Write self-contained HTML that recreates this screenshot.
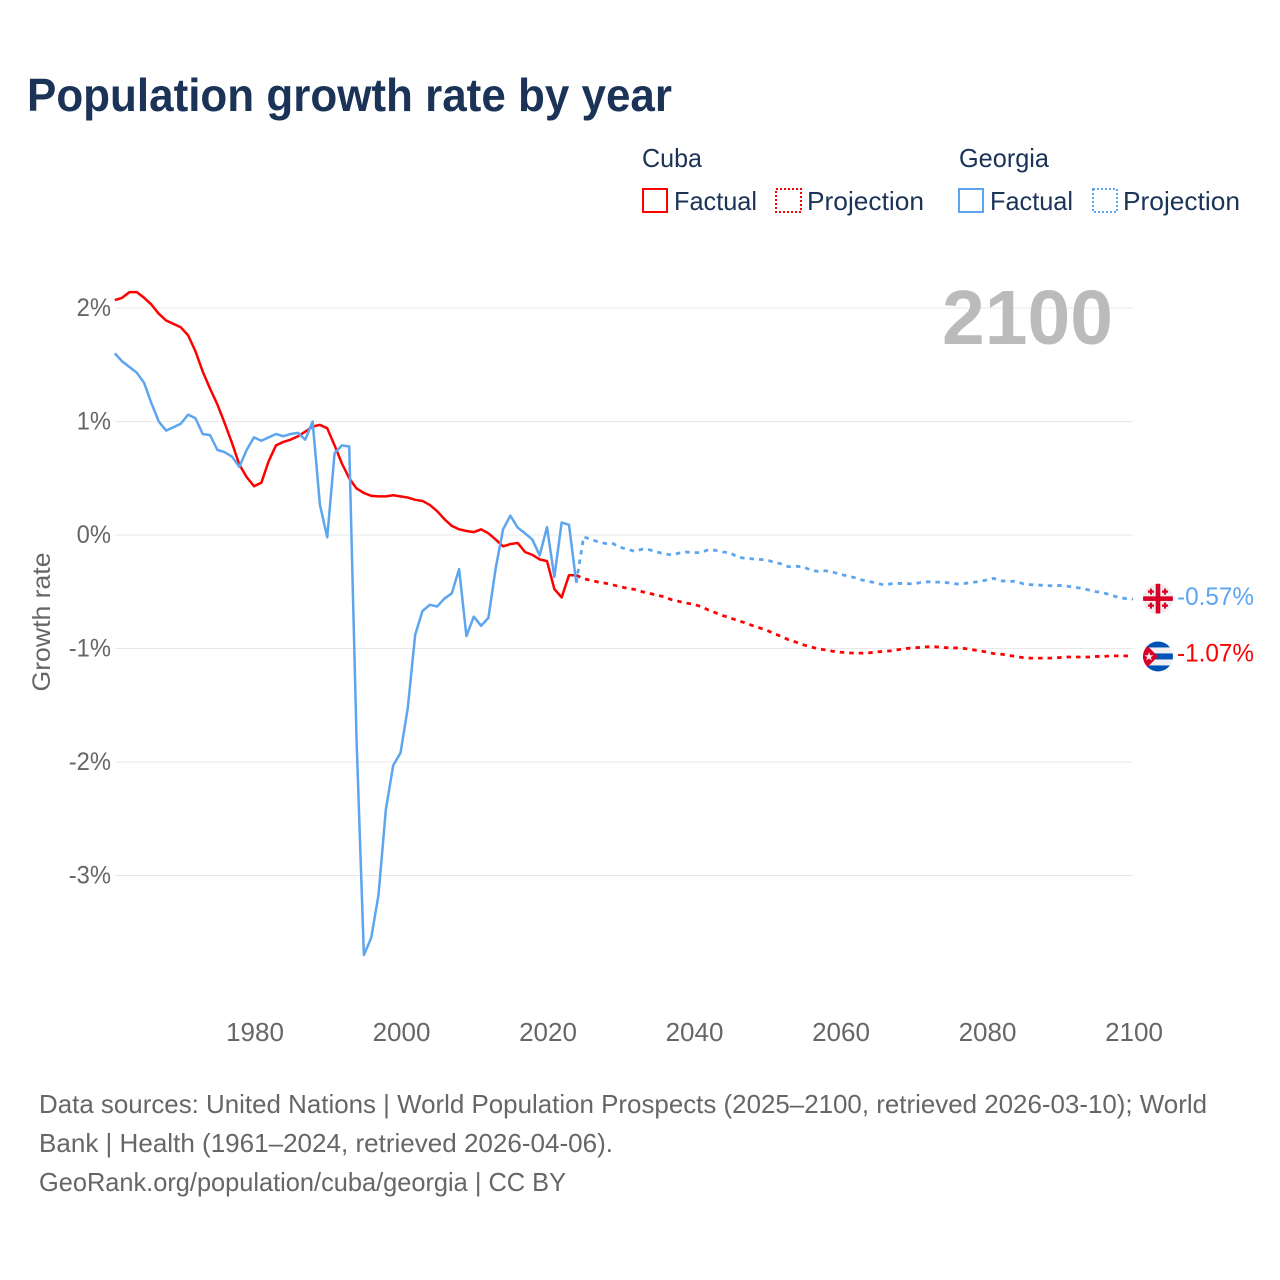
<!DOCTYPE html>
<html lang="en">
<head>
<meta charset="utf-8">
<title>Population growth rate by year</title>
<style>
html,body{margin:0;padding:0;background:#fff;}
svg{display:block;font-family:"Liberation Sans",sans-serif;}
</style>
</head>
<body>
<svg id="chart" xmlns="http://www.w3.org/2000/svg" width="1280" height="1280" viewBox="0 0 1280 1280">
  <rect x="0" y="0" width="1280" height="1280" fill="#fff"/>
  <text x="27" y="111" font-size="46" font-weight="700" fill="#1a3357" textLength="645" lengthAdjust="spacingAndGlyphs">Population growth rate by year</text>

  <g font-size="26" fill="#1a3357">
    <text x="642" y="167" textLength="60" lengthAdjust="spacingAndGlyphs">Cuba</text>
    <text x="959" y="167" textLength="90" lengthAdjust="spacingAndGlyphs">Georgia</text>
    <g>
      <rect x="643" y="189" width="24" height="23" fill="none" stroke="#ff0000" stroke-width="2"/>
      <text x="674" y="210" textLength="83" lengthAdjust="spacingAndGlyphs">Factual</text>
    </g>
    <g>
      <rect x="776" y="189" width="25" height="23" fill="none" stroke="#ff0000" stroke-width="2" stroke-dasharray="2 2"/>
      <text x="807" y="210" textLength="117" lengthAdjust="spacingAndGlyphs">Projection</text>
    </g>
    <g>
      <rect x="959" y="189" width="24" height="23" fill="none" stroke="#5da5ee" stroke-width="2"/>
      <text x="990" y="210" textLength="83" lengthAdjust="spacingAndGlyphs">Factual</text>
    </g>
    <g>
      <rect x="1093" y="189" width="24" height="23" fill="none" stroke="#5da5ee" stroke-width="2" stroke-dasharray="2 2"/>
      <text x="1123" y="210" textLength="117" lengthAdjust="spacingAndGlyphs">Projection</text>
    </g>
  </g>

  <text transform="translate(50,622) rotate(-90)" text-anchor="middle" font-size="25" fill="#666" textLength="139" lengthAdjust="spacingAndGlyphs">Growth rate</text>
  <g id="grid"></g>
  <g id="yticks" font-size="25" fill="#666" text-anchor="end"></g>
  <g id="xticks" font-size="26" fill="#666" text-anchor="middle"></g>

  <text x="942" y="344" font-size="77" font-weight="700" fill="#bbbbbb" textLength="171" lengthAdjust="spacingAndGlyphs">2100</text>

  <g id="series"></g>

  <defs>
    <clipPath id="flag-clip"><circle cx="0" cy="0" r="15"/></clipPath>
  </defs>
  <g id="flag-georgia">
    <g clip-path="url(#flag-clip)">
      <rect x="-15" y="-15" width="30" height="30" fill="#eeeeee"/>
      <rect x="-15" y="-2.300" width="30" height="4.600" fill="#d80027"/>
      <rect x="-2.300" y="-15" width="4.600" height="30" fill="#d80027"/>
      <path d="M-7-10v6M-10-7h6M7-10v6M4-7h6M-7 4v6M-10 7h6M7 4v6M4 7h6" stroke="#d80027" stroke-width="2.200" fill="none"/>
    </g>
  </g>
  <g id="flag-cuba">
    <g clip-path="url(#flag-clip)">
      <rect x="-15" y="-15" width="30" height="30" fill="#f0f0f0"/>
      <rect x="-15" y="-15" width="30" height="6" fill="#0052b4"/>
      <rect x="-15" y="-3" width="30" height="6" fill="#0052b4"/>
      <rect x="-15" y="9" width="30" height="6" fill="#0052b4"/>
      <path d="M-15-15L0 0L-15 15Z" fill="#d80027"/>
      <polygon points="-9,-4.500 -7.900,-1.200 -4.500,-1.200 -7.200,0.800 -6.200,4 -9,2 -11.800,4 -10.800,0.800 -13.500,-1.200 -10.100,-1.200" fill="#f0f0f0"/>
    </g>
  </g>
  <text id="label-georgia" x="1177" font-size="25" fill="#5da5ee"></text>
  <text id="label-cuba" x="1177" font-size="25" fill="#ff0000"></text>

  <g font-size="26" fill="#666">
    <text x="39" y="1113" textLength="1168" lengthAdjust="spacingAndGlyphs">Data sources: United Nations | World Population Prospects (2025–2100, retrieved 2026-03-10); World</text>
    <text x="39" y="1152" textLength="574" lengthAdjust="spacingAndGlyphs">Bank | Health (1961–2024, retrieved 2026-04-06).</text>
    <text x="39" y="1191" textLength="527" lengthAdjust="spacingAndGlyphs">GeoRank.org/population/cuba/georgia | CC BY</text>
  </g>
</svg>
<script>
const yTickValues = [2, 1, 0, -1, -2, -3];
const xTickYears = [1980, 2000, 2020, 2040, 2060, 2080, 2100];
const factualStartYear = 1961;
const projectionStartYear = 2025;
const cubaFactual = [2.07,2.09,2.14,2.14,2.09,2.03,1.95,1.89,1.86,1.83,1.76,1.62,1.44,1.29,1.15,0.985,0.81,0.62,0.51,0.43,0.46,0.65,0.79,0.82,0.84,0.87,0.91,0.955,0.97,0.94,0.79,0.63,0.50,0.41,0.37,0.345,0.34,0.34,0.35,0.34,0.33,0.31,0.30,0.265,0.21,0.14,0.08,0.05,0.035,0.025,0.05,0.015,-0.04,-0.10,-0.08,-0.07,-0.15,-0.175,-0.215,-0.23,-0.475,-0.55,-0.355,-0.355];
const georgiaFactual = [1.60,1.53,1.48,1.43,1.34,1.16,1.00,0.92,0.95,0.98,1.06,1.03,0.89,0.88,0.75,0.73,0.69,0.60,0.75,0.86,0.83,0.86,0.89,0.87,0.89,0.90,0.84,1.00,0.265,-0.02,0.72,0.79,0.78,-1.8,-3.70,-3.55,-3.17,-2.42,-2.03,-1.92,-1.52,-0.88,-0.67,-0.615,-0.63,-0.56,-0.515,-0.30,-0.89,-0.72,-0.80,-0.73,-0.29,0.05,0.17,0.065,0.015,-0.04,-0.18,0.07,-0.37,0.11,0.09,-0.42];
const cubaProjection = [-0.385,-0.40,-0.415,-0.425,-0.44,-0.455,-0.47,-0.48,-0.50,-0.515,-0.53,-0.545,-0.57,-0.585,-0.60,-0.61,-0.63,-0.66,-0.685,-0.71,-0.73,-0.753,-0.773,-0.797,-0.818,-0.84,-0.868,-0.894,-0.924,-0.944,-0.968,-0.985,-1.003,-1.012,-1.024,-1.032,-1.038,-1.041,-1.041,-1.038,-1.03,-1.025,-1.02,-1.01,-1.0,-0.995,-0.99,-0.985,-0.985,-0.99,-0.995,-0.995,-1.0,-1.01,-1.02,-1.03,-1.045,-1.05,-1.06,-1.07,-1.08,-1.085,-1.085,-1.085,-1.085,-1.08,-1.075,-1.075,-1.075,-1.075,-1.07,-1.07,-1.065,-1.065,-1.065,-1.07];
const georgiaProjection = [-0.015,-0.04,-0.06,-0.075,-0.075,-0.11,-0.125,-0.145,-0.125,-0.13,-0.15,-0.165,-0.175,-0.16,-0.15,-0.155,-0.155,-0.13,-0.135,-0.15,-0.155,-0.195,-0.205,-0.21,-0.215,-0.22,-0.24,-0.255,-0.28,-0.276,-0.28,-0.31,-0.32,-0.315,-0.326,-0.347,-0.36,-0.376,-0.397,-0.41,-0.424,-0.44,-0.43,-0.427,-0.427,-0.432,-0.418,-0.412,-0.415,-0.415,-0.424,-0.432,-0.427,-0.418,-0.41,-0.397,-0.382,-0.403,-0.41,-0.406,-0.43,-0.438,-0.44,-0.445,-0.447,-0.445,-0.45,-0.46,-0.47,-0.485,-0.50,-0.51,-0.53,-0.55,-0.56,-0.565];
const cubaEndLabel = "-1.07%";
const georgiaEndLabel = "-0.57%";

const SVG_NS = "http://www.w3.org/2000/svg";
function xScale(year) { return 254 + (year - 1980) * 7.325; }
function yScale(v) { return 535 - v * 113.5; }

const gridGroup = document.getElementById("grid");
const yTickGroup = document.getElementById("yticks");
const xTickGroup = document.getElementById("xticks");
const seriesGroup = document.getElementById("series");

yTickValues.forEach(function (v) {
  const line = document.createElementNS(SVG_NS, "line");
  
  
  line.setAttribute("x1", 115);
  line.setAttribute("x2", 1133);
  line.setAttribute("y1", yScale(v));
  line.setAttribute("y2", yScale(v));
  line.setAttribute("stroke", "#e8e8e8");
  line.setAttribute("stroke-width", 1);
  gridGroup.appendChild(line);

  const t = document.createElementNS(SVG_NS, "text");
  
  
  t.setAttribute("x", 111);
  t.setAttribute("y", yScale(v) + 8);
  t.textContent = v + "%";
  yTickGroup.appendChild(t);
  t.setAttribute("textLength", t.getComputedTextLength() * 0.95);
  t.setAttribute("lengthAdjust", "spacingAndGlyphs");
});

xTickYears.forEach(function (year) {
  const t = document.createElementNS(SVG_NS, "text");
  
  
  t.setAttribute("x", xScale(year) + 1);
  t.setAttribute("y", 1041);
  t.textContent = String(year);
  xTickGroup.appendChild(t);
});

function pointsFor(values, startYear, prefix) {
  const pts = [];
  if (prefix) { pts.push(xScale(prefix.year).toFixed(2) + "," + yScale(prefix.value).toFixed(2)); }
  values.forEach(function (v, i) {
    pts.push(xScale(startYear + i).toFixed(2) + "," + yScale(v).toFixed(2));
  });
  return pts.join(" ");
}

function addCubaLine(points, dashed) {
  const p = document.createElementNS(SVG_NS, "polyline");
  
  
  p.setAttribute("points", points);
  p.setAttribute("fill", "none");
  p.setAttribute("stroke", "#ff0000");
  p.setAttribute("stroke-width", dashed ? 2.8 : 2.5);
  p.setAttribute("stroke-linejoin", "round");
  if (dashed) { p.setAttribute("stroke-dasharray", "4.500 5"); }
  seriesGroup.appendChild(p);
}

function addGeorgiaLine(points, dashed) {
  const p = document.createElementNS(SVG_NS, "polyline");
  
  
  p.setAttribute("points", points);
  p.setAttribute("fill", "none");
  p.setAttribute("stroke", "#5da5ee");
  p.setAttribute("stroke-width", dashed ? 2.8 : 2.5);
  p.setAttribute("stroke-linejoin", "round");
  if (dashed) { p.setAttribute("stroke-dasharray", "4.500 5"); }
  seriesGroup.appendChild(p);
}

const lastYear = factualStartYear + cubaFactual.length - 1;
addCubaLine(pointsFor(cubaProjection, projectionStartYear, { year: lastYear, value: cubaFactual[cubaFactual.length - 1] }), true);
addCubaLine(pointsFor(cubaFactual, factualStartYear), false);
addGeorgiaLine(pointsFor(georgiaProjection, projectionStartYear, { year: lastYear, value: georgiaFactual[georgiaFactual.length - 1] }), true);
addGeorgiaLine(pointsFor(georgiaFactual, factualStartYear), false);

const endYear = projectionStartYear + cubaProjection.length - 1;
const flagX = xScale(endYear) + 25;
const cubaEndY = yScale(cubaProjection[cubaProjection.length - 1]);
const georgiaEndY = yScale(georgiaProjection[georgiaProjection.length - 1]);
document.getElementById("flag-cuba").setAttribute("transform", "translate(" + flagX + "," + cubaEndY + ")");
document.getElementById("flag-georgia").setAttribute("transform", "translate(" + flagX + "," + (georgiaEndY - 0.5) + ")");

const cubaLabel = document.getElementById("label-cuba");
cubaLabel.textContent = cubaEndLabel;
cubaLabel.setAttribute("y", cubaEndY + 5);
cubaLabel.setAttribute("textLength", 77);
cubaLabel.setAttribute("lengthAdjust", "spacingAndGlyphs");
const georgiaLabel = document.getElementById("label-georgia");
georgiaLabel.textContent = georgiaEndLabel;
georgiaLabel.setAttribute("y", georgiaEndY + 6);
georgiaLabel.setAttribute("textLength", 77);
georgiaLabel.setAttribute("lengthAdjust", "spacingAndGlyphs");
</script>
</body>
</html>
